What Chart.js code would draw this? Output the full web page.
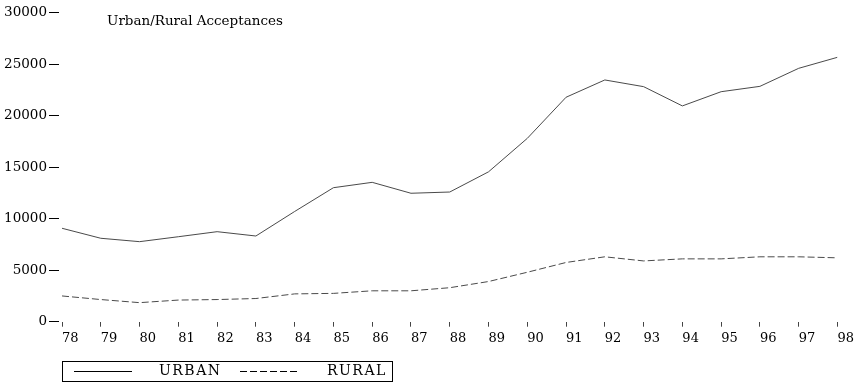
<!DOCTYPE html>
<html>
<head>
<meta charset="utf-8">
<script src="https://cdn.jsdelivr.net/npm/chart.js@4/dist/chart.umd.min.js"></script>
<style>
  html, body { margin: 0; padding: 0; background: #fff; }
  #wrap { position: relative; width: 858px; height: 383px; }
</style>
</head>
<body>
<div id="wrap"><canvas id="chart"></canvas></div>
<script>
// Acceptances by year (two-digit years), urban vs rural
const years = [78, 79, 80, 81, 82, 83, 84, 85, 86, 87, 88, 89, 90, 91, 92, 93, 94, 95, 96, 97, 98];
const urban = [9070, 8100, 7770, 8250, 8740, 8320, 10700, 13010, 13530, 12470, 12590, 14550, 17800, 21790, 23470, 22820, 20950, 22330, 22850, 24600, 25670];
const rural = [2500, 2150, 1850, 2100, 2150, 2250, 2700, 2750, 3000, 3000, 3300, 3900, 4800, 5750, 6300, 5900, 6100, 6100, 6300, 6300, 6200];
const yTicks = [0, 5000, 10000, 15000, 20000, 25000, 30000];
const seriesNames = ['URBAN', 'RURAL'];
const chartTitle = 'Urban/Rural Acceptances';

const SERIF = '"DejaVu Serif", "Liberation Serif", serif';
const DASH = [7, 3];

// Title and boxed legend drawn on top of the chart
const decorations = {
  id: 'decorations',
  afterDraw(chart) {
    const ctx = chart.ctx;
    ctx.save();
    ctx.fillStyle = '#000';
    ctx.textBaseline = 'middle';
    ctx.textAlign = 'left';
    ctx.font = '13.5px ' + SERIF;
    ctx.fillText(chartTitle, 107, 21);

    // legend frame
    ctx.strokeStyle = '#000';
    ctx.lineWidth = 1;
    ctx.setLineDash([]);
    ctx.strokeRect(62.5, 361.5, 330, 20);

    const ds = chart.data.datasets;
    const rowY = 371.5;
    const items = [
      { x0: 74, x1: 132, tx: 159, ds: ds[0] },
      { x0: 240, x1: 298, tx: 327, ds: ds[1] }
    ];
    ctx.font = '14px ' + SERIF;
    ctx.letterSpacing = '1.5px';
    items.forEach(it => {
      ctx.beginPath();
      ctx.setLineDash(it.ds.borderDash || []);
      ctx.strokeStyle = '#000';
      ctx.lineWidth = 1;
      ctx.moveTo(it.x0, rowY);
      ctx.lineTo(it.x1, rowY);
      ctx.stroke();
      ctx.setLineDash([]);
      ctx.fillText(it.ds.label, it.tx, rowY);
    });
    ctx.restore();
  }
};

new Chart(document.getElementById('chart'), {
  type: 'line',
  data: {
    datasets: [
      {
        label: seriesNames[0],
        data: years.map((yr, i) => ({ x: yr, y: urban[i] })),
        borderColor: '#4a4a4a',
        borderWidth: 1,
        pointRadius: 0,
        tension: 0,
        fill: false
      },
      {
        label: seriesNames[1],
        data: years.map((yr, i) => ({ x: yr, y: rural[i] })),
        borderColor: '#4a4a4a',
        borderWidth: 1,
        borderDash: DASH,
        pointRadius: 0,
        tension: 0,
        fill: false
      }
    ]
  },
  options: {
    responsive: true,
    maintainAspectRatio: false,
    animation: false,
    events: [],
    layout: { padding: { left: 0, top: 12.7, right: 17, bottom: 0 } },
    plugins: {
      legend: { display: false },
      title: { display: false },
      tooltip: { enabled: false }
    },
    scales: {
      x: {
        type: 'linear',
        min: 77.922,
        max: 98,
        afterBuildTicks(scale) {
          scale.ticks = years.map(v => ({ value: v }));
        },
        afterFit(scale) { scale.height = 383 - 321.7; },
        border: { display: false },
        grid: {
          drawOnChartArea: false,
          drawTicks: true,
          tickLength: 5,
          color: '#444',
          lineWidth: 1
        },
        ticks: {
          autoSkip: false,
          maxRotation: 0,
          minRotation: 0,
          align: 'start',
          padding: 4,
          color: '#000',
          font: { family: SERIF, size: 13 },
          callback: v => String(v)
        }
      },
      y: {
        type: 'linear',
        min: 0,
        max: 30000,
        afterBuildTicks(scale) {
          scale.ticks = yTicks.map(v => ({ value: v }));
        },
        afterFit(scale) { scale.width = 59; },
        border: { display: false },
        grid: {
          drawOnChartArea: false,
          drawTicks: true,
          tickLength: 10,
          color: '#000',
          lineWidth: 1
        },
        ticks: {
          padding: 2,
          color: '#000',
          font: { family: SERIF, size: 13.5 },
          callback: v => String(v)
        }
      }
    }
  },
  plugins: [decorations]
});
</script>
</body>
</html>
